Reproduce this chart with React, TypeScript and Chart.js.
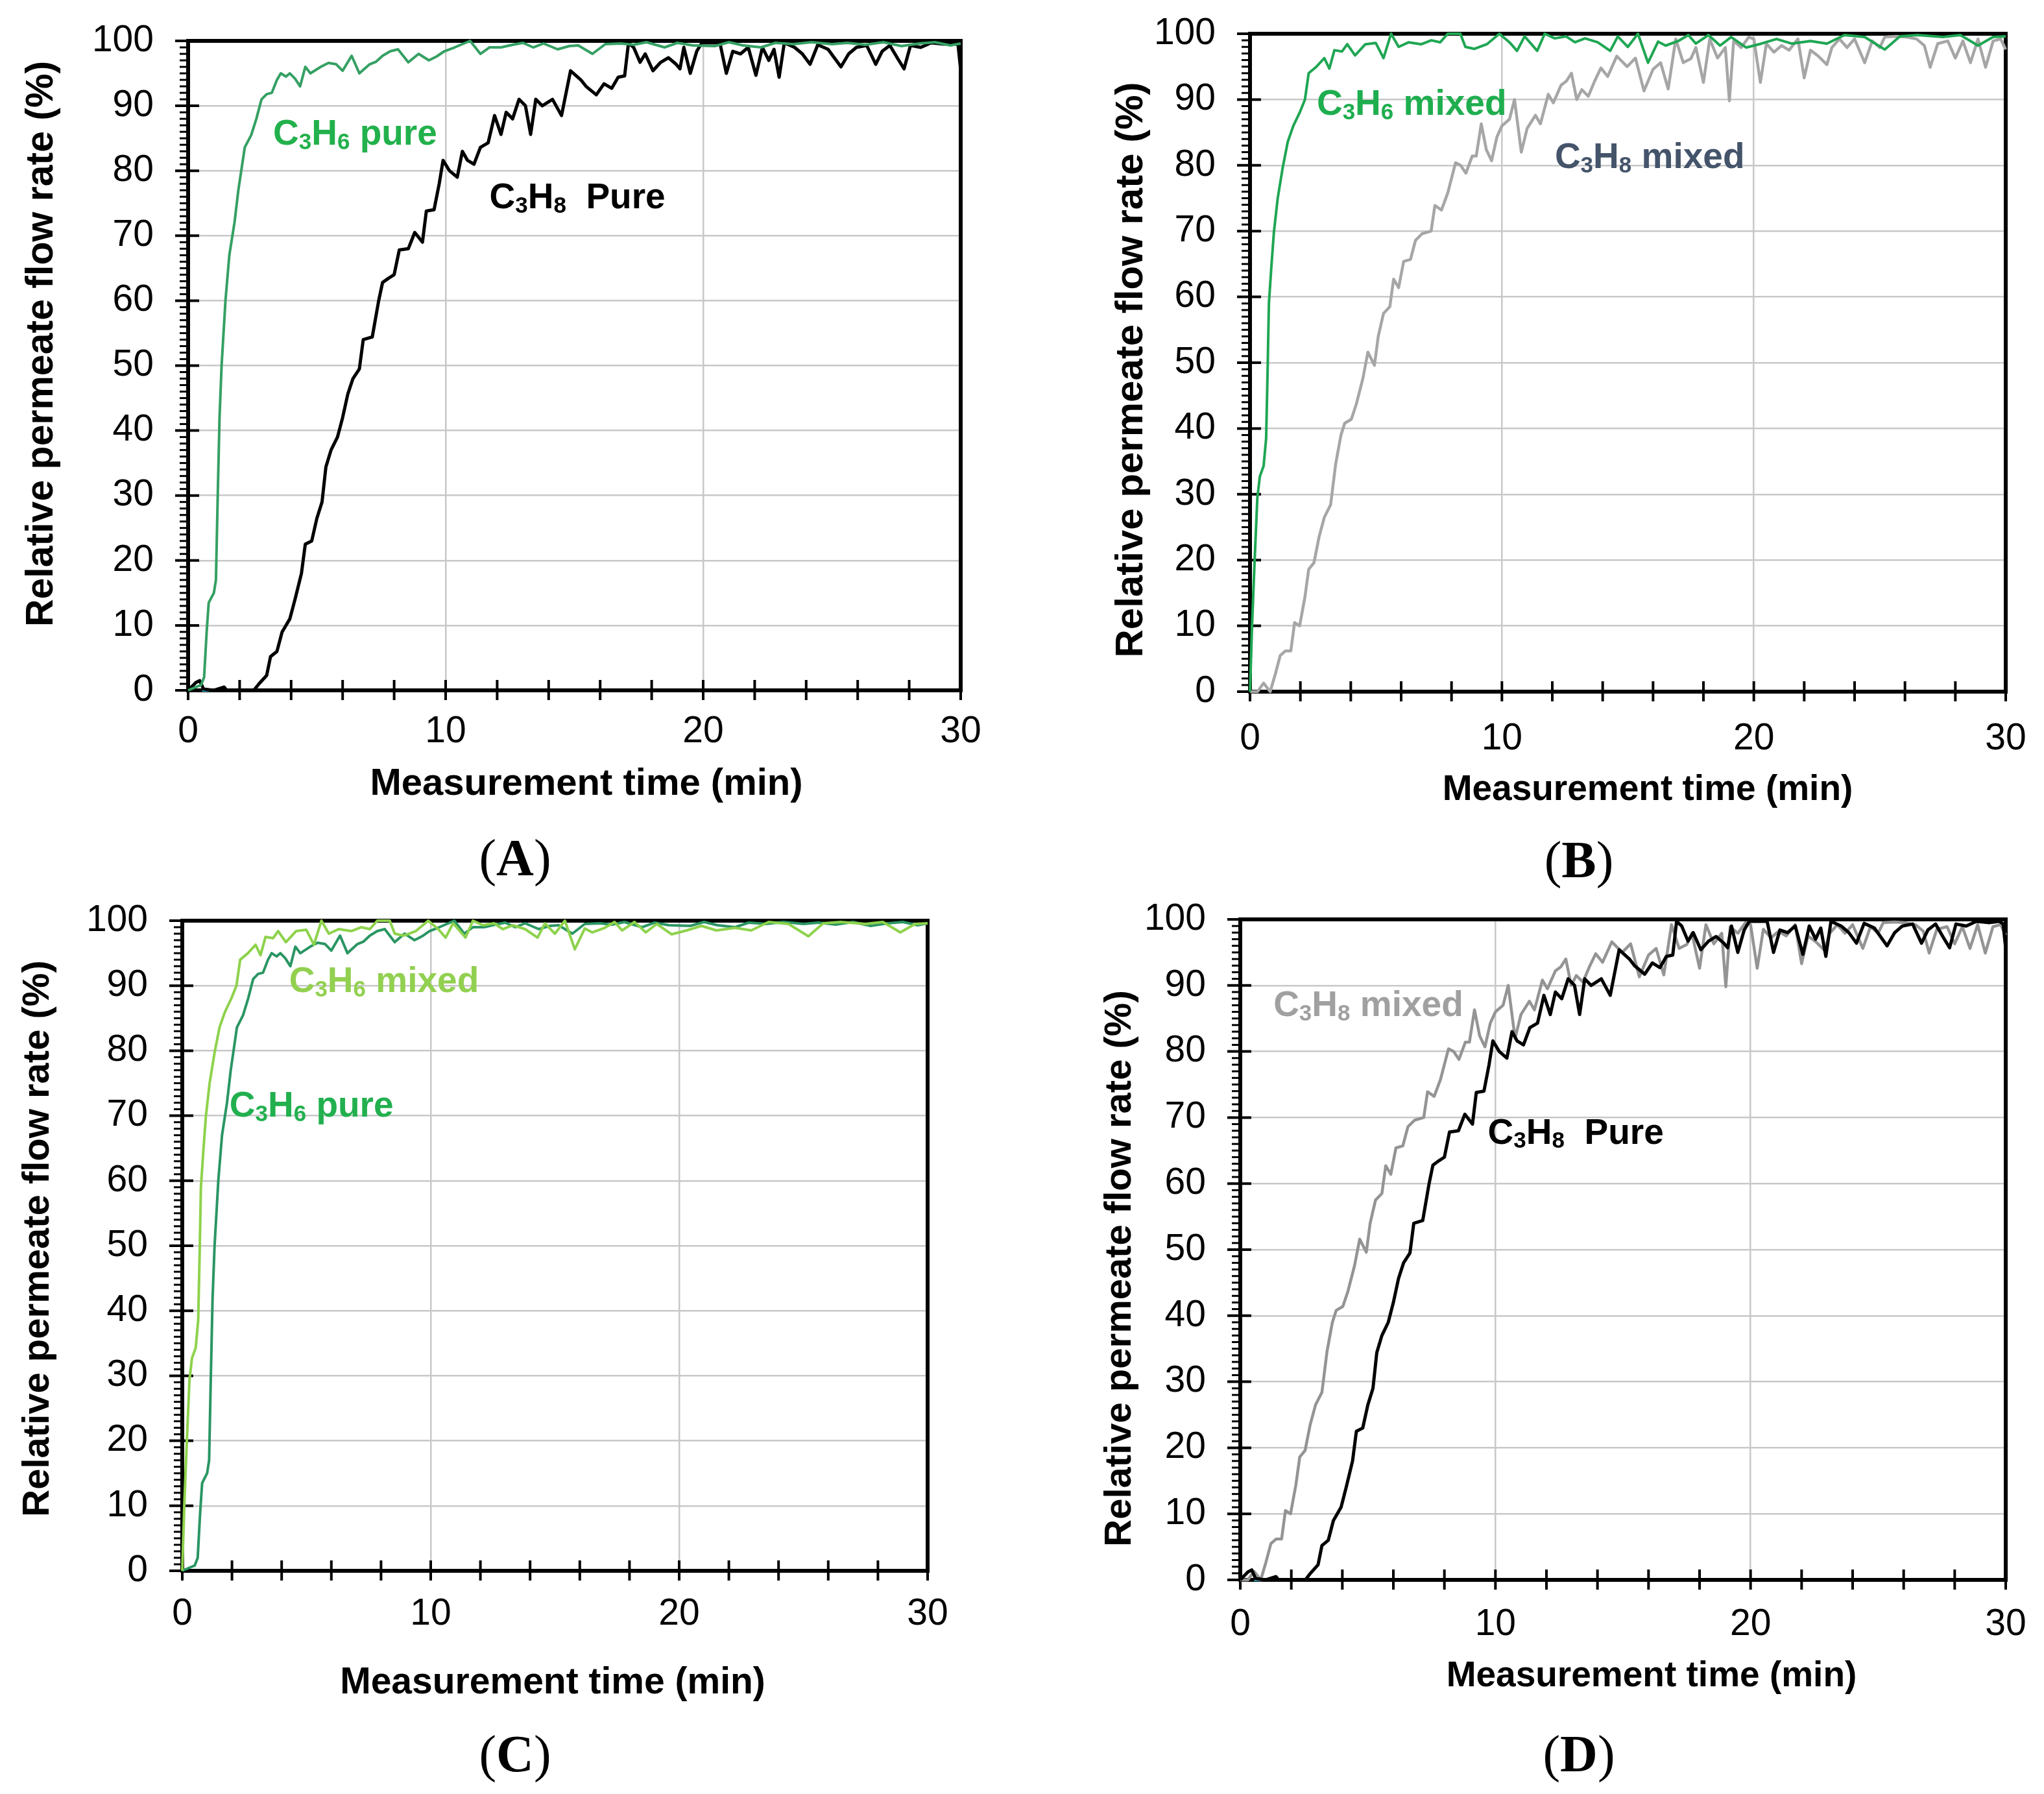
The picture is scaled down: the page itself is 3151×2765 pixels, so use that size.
import React, { useEffect, useRef } from 'react';
import { Chart, registerables } from 'chart.js';

Chart.register(...registerables);

type Pt = [number, number];

// ---------- data (time in min, relative permeate flow rate in %) ----------
const C3H6_PURE: Pt[] = [
  [0, 0], [0.3, 0.5], [0.5, 0.8], [0.62, 2], [0.72, 9], [0.8, 13.5], [1.0, 15], [1.08, 17], [1.15, 30],
  [1.22, 42], [1.3, 50], [1.45, 60], [1.6, 67], [1.8, 72], [1.95, 77], [2.2, 83.6], [2.45, 85.5],
  [2.65, 88], [2.85, 91], [3.05, 91.8], [3.25, 92], [3.45, 94], [3.6, 95], [3.8, 94.5], [3.95, 95],
  [4.15, 94.2], [4.35, 93], [4.55, 96], [4.75, 95], [5.15, 96], [5.45, 96.6], [5.75, 96.4], [6.0, 95.4],
  [6.35, 97.7], [6.65, 95], [7.05, 96.4], [7.3, 96.8], [7.55, 97.7], [7.85, 98.4], [8.15, 98.7],
  [8.55, 96.7], [8.95, 98], [9.35, 97], [9.65, 97.6], [9.95, 98.4], [10.35, 99], [10.95, 100],
  [11.35, 98], [11.7, 99], [12.15, 99], [12.6, 99.4], [13.0, 99.7], [13.4, 99], [13.8, 99.6],
  [14.35, 98.7], [14.8, 99.2], [15.15, 99.3], [15.7, 98], [16.2, 99.5], [16.8, 99.6], [17.3, 99.4],
  [17.8, 99.8], [18.5, 99], [19.0, 99.7], [19.6, 99.3], [20.45, 99.2], [21.0, 99.8], [21.55, 99.3],
  [22.25, 99], [22.8, 99.7], [23.5, 99.5], [24.2, 99.8], [25.0, 99.5], [25.6, 99.7], [26.3, 99.4],
  [27.0, 99.8], [27.7, 99.2], [28.4, 99.6], [29.0, 99.8], [29.6, 99.3], [30, 99.6],
];

const C3H8_PURE: Pt[] = [
  [0, 0], [0.3, 1.2], [0.45, 1.5], [0.6, 0.2], [1.0, 0], [1.4, 0.5], [1.5, 0], [2.0, 0], [2.55, 0],
  [2.75, 1], [3.05, 2.3], [3.2, 5.2], [3.45, 6], [3.65, 9], [3.95, 11], [4.15, 14], [4.4, 18],
  [4.55, 22.5], [4.8, 23], [5.0, 26.5], [5.2, 29], [5.35, 34.4], [5.55, 37], [5.8, 39], [6.0, 42],
  [6.2, 45.6], [6.4, 48], [6.65, 49.5], [6.8, 54], [7.15, 54.4], [7.4, 60], [7.55, 62.8], [7.8, 63.5],
  [8.0, 64], [8.2, 67.8], [8.55, 68], [8.8, 70.5], [9.1, 69], [9.25, 73.8], [9.55, 74], [9.75, 78],
  [9.9, 81.6], [10.15, 80], [10.45, 79], [10.65, 83], [10.85, 81.6], [11.1, 81], [11.35, 83.6],
  [11.65, 84.3], [11.9, 88.5], [12.15, 85.6], [12.35, 89], [12.6, 88], [12.85, 91], [13.1, 90],
  [13.3, 85.6], [13.5, 91], [13.75, 90], [14.15, 91], [14.5, 88.5], [14.85, 95.4], [15.25, 94],
  [15.45, 93], [15.85, 91.7], [16.15, 93.4], [16.45, 92.7], [16.7, 94.4], [16.95, 94.6], [17.1, 99.7],
  [17.3, 99], [17.55, 96.7], [17.75, 98], [18.05, 95.4], [18.35, 96.7], [18.65, 97.4], [18.95, 96.4],
  [19.1, 95.7], [19.25, 99], [19.5, 95], [19.75, 98.4], [19.95, 99.7], [20.25, 99.7], [20.65, 99.7],
  [20.9, 95], [21.15, 98.4], [21.45, 98], [21.75, 99], [22.05, 94.7], [22.3, 99], [22.55, 97],
  [22.75, 98.7], [22.95, 94.4], [23.15, 99.7], [23.55, 99], [23.85, 98], [24.15, 96.4], [24.45, 99.4],
  [24.85, 98.7], [25.35, 96], [25.65, 98], [25.95, 99], [26.35, 99.3], [26.7, 96.4], [26.95, 98.4],
  [27.25, 99.3], [27.55, 97.3], [27.8, 95.7], [28.05, 99.3], [28.45, 99], [28.85, 99.7], [29.35, 99.5],
  [29.75, 99.7], [29.9, 99.3], [30, 95.5],
];

const C3H6_MIXED: Pt[] = [
  [0, 0], [0.08, 10], [0.18, 19.6], [0.29, 29.4], [0.39, 32.7], [0.54, 34.3], [0.64, 38.5], [0.7, 49],
  [0.75, 59], [0.85, 64.7], [0.95, 69.9], [1.1, 75], [1.3, 79.7], [1.5, 83.6], [1.72, 86], [1.97, 88],
  [2.18, 90], [2.33, 94], [2.64, 95], [2.95, 96.3], [3.15, 94.7], [3.35, 97.5], [3.65, 97.3],
  [3.86, 98.4], [4.17, 96.7], [4.58, 98.4], [4.99, 98.6], [5.3, 96.3], [5.6, 100], [5.9, 98],
  [6.3, 98.7], [6.8, 98.4], [7.2, 99], [7.55, 98.7], [7.85, 100], [8.35, 100], [8.55, 98], [8.9, 97.7],
  [9.4, 98.4], [9.9, 100], [10.3, 98.7], [10.6, 97.4], [10.9, 99.6], [11.4, 97.4], [11.7, 100],
  [12.1, 99.3], [12.55, 99.6], [12.9, 98.7], [13.3, 99.3], [13.8, 98.7], [14.3, 97.4], [14.6, 99.6],
  [15.0, 98], [15.4, 100], [15.8, 95.6], [16.2, 98.8], [16.5, 98.2], [17.0, 98.9], [17.4, 99.8],
  [17.7, 98.5], [18.2, 99.8], [18.66, 98.2], [19.1, 99.5], [19.7, 97.9], [20.3, 98.5], [20.9, 99.2],
  [21.5, 98.5], [22.25, 98.9], [22.9, 98.5], [23.6, 99.8], [24.4, 99.5], [25.2, 97.6], [25.8, 99.6],
  [26.5, 99.8], [27.5, 99.5], [28.2, 99.8], [28.9, 98.2], [29.5, 99.5], [30, 99.6],
];

const C3H8_MIXED: Pt[] = [
  [0, 0], [0.3, 0], [0.54, 1.3], [0.8, 0], [1.0, 2.6], [1.2, 5.5], [1.41, 6.2], [1.62, 6.2],
  [1.77, 10.5], [1.97, 10], [2.18, 14.4], [2.33, 18.6], [2.54, 19.6], [2.74, 23.5], [2.95, 26.5],
  [3.2, 28.4], [3.4, 34.6], [3.61, 39], [3.76, 40.8], [4.02, 41.4], [4.22, 43.7], [4.48, 47.6],
  [4.68, 51.6], [4.94, 49.6], [5.09, 54], [5.3, 57.5], [5.55, 58.5], [5.7, 62.7], [5.9, 61.4],
  [6.1, 65.4], [6.37, 65.7], [6.57, 68.6], [6.83, 69.6], [7.19, 70], [7.34, 73.9], [7.6, 73.2],
  [7.85, 75.8], [8.16, 80.4], [8.36, 80], [8.57, 78.8], [8.82, 81.4], [8.98, 81.4], [9.18, 86.3],
  [9.38, 82.4], [9.59, 80.7], [9.8, 84.3], [10.0, 86], [10.3, 87], [10.5, 90], [10.77, 82], [11.0, 85.6],
  [11.33, 87.6], [11.53, 86.3], [11.84, 90.8], [12.04, 89.5], [12.35, 92.2], [12.56, 92.8], [12.76, 94],
  [12.97, 90], [13.17, 91.5], [13.43, 90.5], [13.68, 92.8], [13.93, 94.8], [14.2, 93.5], [14.56, 96.6],
  [14.97, 95], [15.3, 96.3], [15.64, 91.3], [16.0, 94.6], [16.3, 95.6], [16.6, 91.6], [16.9, 99.2],
  [17.2, 95.6], [17.5, 96.2], [17.7, 97.9], [18.0, 92.6], [18.25, 99.2], [18.56, 96.3], [18.87, 97.9],
  [19.03, 89.8], [19.2, 98.9], [19.5, 97.9], [19.8, 99.5], [20.0, 99.2], [20.26, 92.6], [20.5, 98.5],
  [20.8, 97.2], [21.1, 98.2], [21.4, 97.5], [21.75, 99.2], [22.0, 93.3], [22.25, 97.5], [22.56, 96.6],
  [22.9, 95.3], [23.1, 97.9], [23.4, 99.2], [23.7, 97.9], [24.0, 99.2], [24.4, 95.6], [24.7, 98.9],
  [25.0, 97.9], [25.2, 99.5], [25.65, 99.6], [26.05, 99.5], [26.46, 99.2], [26.77, 98.2], [27.0, 94.9],
  [27.3, 98.5], [27.7, 98.9], [28.0, 96.3], [28.3, 98.9], [28.6, 95.6], [28.9, 99.2], [29.2, 94.9],
  [29.5, 98.9], [29.8, 99.2], [30, 97.6],
];

const BASELINE_MARK: Pt[] = [[0.55, 0], [1.0, 0]];

// ---------- axes ----------
const X_MIN = 0;
const X_MAX = 30;
const X_LABEL_STEP = 10;
const X_MARK_STEP = 2;
const Y_MIN = 0;
const Y_MAX = 100;
const Y_LABEL_STEP = 10;
const Y_MINOR_STEP = 1;
const X_TITLE = 'Measurement time (min)';
const Y_TITLE = 'Relative permeate flow rate (%)';

const SANS = '"Liberation Sans", Arial, Helvetica, sans-serif';

type Series = { label: string; points: Pt[]; color: string; width: number };
type Note = { text: string; x: number; y: number; color: string };
type Spec = {
  id: string;
  x0: number; y0: number; w: number; h: number;
  left: number; right: number; top: number; bottom: number;
  xLabelY: number;
  yTitleX: number; yTitleY: number; yTitleSize: number;
  xTitleX: number; xTitleY: number; xTitleSize: number;
  series: Series[];
  notes: Note[];
  tag: string; tagX: number; tagY: number;
};

const PANELS: Spec[] = [
  {
    id: 'A', x0: 0, y0: 0, w: 1560, h: 1260,
    left: 290, right: 1481, top: 63, bottom: 1064,
    xLabelY: 1128,
    yTitleX: 70, yTitleY: 530, yTitleSize: 59,
    xTitleX: 904, xTitleY: 1209, xTitleSize: 58,
    series: [
      { label: 'C3H6 pure', points: C3H6_PURE, color: '#35a063', width: 4 },
      { label: 'C3H8 pure', points: C3H8_PURE, color: '#000000', width: 5 },
      { label: 'mark', points: BASELINE_MARK, color: '#3cc4ef', width: 4 },
    ],
    notes: [
      { text: 'C_3H_6 pure', x: 3.3, y: 86, color: '#22b14c' },
      { text: 'C_3H_8  Pure', x: 11.7, y: 76.2, color: '#000000' },
    ],
    tag: 'A', tagX: 794, tagY: 1322,
  },
  {
    id: 'B', x0: 1640, y0: 0, w: 1511, h: 1260,
    left: 1927, right: 3092, top: 52, bottom: 1066,
    xLabelY: 1139,
    yTitleX: 1749, yTitleY: 570, yTitleSize: 60,
    xTitleX: 2540, xTitleY: 1218, xTitleSize: 55,
    series: [
      { label: 'C3H6 mixed', points: C3H6_MIXED, color: '#1fa653', width: 4 },
      { label: 'C3H8 mixed', points: C3H8_MIXED, color: '#a6a6a6', width: 4.5 },
    ],
    notes: [
      { text: 'C_3H_6 mixed', x: 2.65, y: 89.6, color: '#1fae4f' },
      { text: 'C_3H_8 mixed', x: 12.1, y: 81.5, color: '#44546a' },
    ],
    tag: 'B', tagX: 2434, tagY: 1325,
  },
  {
    id: 'C', x0: 0, y0: 1380, w: 1560, h: 1270,
    left: 281, right: 1430, top: 1419, bottom: 2421,
    xLabelY: 2488,
    yTitleX: 64, yTitleY: 1909, yTitleSize: 58,
    xTitleX: 852, xTitleY: 2594, xTitleSize: 57,
    series: [
      { label: 'C3H6 mixed', points: C3H6_MIXED, color: '#8ed24c', width: 4 },
      { label: 'C3H6 pure', points: C3H6_PURE, color: '#2a9663', width: 4 },
    ],
    notes: [
      { text: 'C_3H_6 mixed', x: 4.3, y: 91, color: '#92d050' },
      { text: 'C_3H_6 pure', x: 1.9, y: 71.8, color: '#22b04f' },
    ],
    tag: 'C', tagX: 794, tagY: 2703,
  },
  {
    id: 'D', x0: 1640, y0: 1380, w: 1511, h: 1270,
    left: 1912, right: 3092, top: 1417, bottom: 2435,
    xLabelY: 2504,
    yTitleX: 1732, yTitleY: 1955, yTitleSize: 58,
    xTitleX: 2546, xTitleY: 2584, xTitleSize: 55,
    series: [
      { label: 'C3H8 pure', points: C3H8_PURE, color: '#000000', width: 5 },
      { label: 'C3H8 mixed', points: C3H8_MIXED, color: '#949494', width: 4.5 },
      { label: 'mark', points: BASELINE_MARK, color: '#3cc4ef', width: 4 },
    ],
    notes: [
      { text: 'C_3H_8 mixed', x: 1.3, y: 87.3, color: '#a0a0a0' },
      { text: 'C_3H_8  Pure', x: 9.7, y: 68, color: '#000000' },
    ],
    tag: 'D', tagX: 2434, tagY: 2703,
  },
];

const TICK_SIZE = 57;
const NOTE_SIZE = 55;
const Y_LABEL_GAP = 53;

// frame + tick marks, drawn under the data lines
const framePlugin = {
  id: 'frameTicks',
  beforeDatasetsDraw(chart: any) {
    const { ctx, chartArea, scales } = chart;
    const { left, right, top, bottom } = chartArea;
    const x = scales.x;
    const y = scales.y;
    const seg = (a: number, b: number, c: number, d: number) => {
      ctx.beginPath();
      ctx.moveTo(a, b);
      ctx.lineTo(c, d);
      ctx.stroke();
    };
    ctx.save();
    ctx.strokeStyle = '#000';
    ctx.lineCap = 'butt';
    ctx.lineWidth = 3;
    for (let v = Y_MIN; v <= Y_MAX; v += Y_MINOR_STEP) {
      if (v % Y_LABEL_STEP === 0) continue;
      const py = y.getPixelForValue(v);
      seg(left - 13, py, left, py);
    }
    ctx.lineWidth = 4;
    for (let v = Y_MIN; v <= Y_MAX; v += Y_LABEL_STEP) {
      const py = y.getPixelForValue(v);
      seg(left - 20, py, left + 17, py);
    }
    for (let t = X_MIN; t <= X_MAX; t += X_MARK_STEP) {
      const px = x.getPixelForValue(t);
      seg(px, bottom - 16, px, bottom + 15);
    }
    ctx.lineWidth = 6;
    ctx.strokeRect(left, top, right - left, bottom - top);
    ctx.restore();
  },
};

function drawFormula(ctx: CanvasRenderingContext2D, text: string, x: number, yMid: number, color: string, size: number) {
  const parts = text.split(/(_\d)/).filter((p) => p.length > 0);
  const baseline = yMid + size * 0.36;
  let cx = x;
  ctx.fillStyle = color;
  ctx.textAlign = 'left';
  ctx.textBaseline = 'alphabetic';
  for (const p of parts) {
    if (p.startsWith('_')) {
      const s = Math.round(size * 0.64);
      ctx.font = `bold ${s}px ${SANS}`;
      ctx.fillText(p.slice(1), cx, baseline + size * 0.12);
      cx += ctx.measureText(p.slice(1)).width;
    } else {
      ctx.font = `bold ${size}px ${SANS}`;
      ctx.fillText(p, cx, baseline);
      cx += ctx.measureText(p).width;
    }
  }
}

const notesPlugin = {
  id: 'notes',
  afterDatasetsDraw(chart: any, _args: any, opts: any) {
    const { ctx, scales } = chart;
    const notes: Note[] = opts.notes || [];
    ctx.save();
    for (const n of notes) {
      drawFormula(ctx, n.text, scales.x.getPixelForValue(n.x), scales.y.getPixelForValue(n.y), n.color, NOTE_SIZE);
    }
    ctx.restore();
  },
};

// axis titles placed like the original figure (slightly off-centre)
const titlesPlugin = {
  id: 'axisTitles',
  afterDraw(chart: any, _args: any, opts: any) {
    const p: Spec = opts.spec;
    if (!p) return;
    const { ctx } = chart;
    ctx.save();
    ctx.fillStyle = '#000';
    ctx.textAlign = 'center';
    ctx.textBaseline = 'middle';
    ctx.font = `bold ${p.xTitleSize}px ${SANS}`;
    ctx.fillText(X_TITLE, p.xTitleX - p.x0, p.xTitleY - p.y0);
    ctx.translate(p.yTitleX - p.x0 - 5, p.yTitleY - p.y0);
    ctx.rotate(-Math.PI / 2);
    ctx.font = `bold ${p.yTitleSize}px ${SANS}`;
    ctx.fillText(Y_TITLE, 0, 0);
    ctx.restore();
  },
};

function buildConfig(p: Spec): any {
  const tickLH = TICK_SIZE * 1.2;
  return {
    type: 'line',
    data: {
      datasets: p.series.map((s) => ({
        label: s.label,
        data: s.points.map(([t, v]) => ({ x: t, y: v })),
        borderColor: s.color,
        backgroundColor: s.color,
        borderWidth: s.width,
        pointRadius: 0,
        tension: 0,
        fill: false,
        clip: 10,
        borderJoinStyle: 'round',
      })),
    },
    options: {
      animation: false,
      responsive: false,
      maintainAspectRatio: false,
      events: [],
      layout: {
        padding: { left: 0, top: p.top - p.y0, right: p.x0 + p.w - p.right, bottom: 0 },
      },
      plugins: {
        legend: { display: false },
        tooltip: { enabled: false },
        notes: { notes: p.notes },
        axisTitles: { spec: p },
      },
      scales: {
        x: {
          type: 'linear',
          min: X_MIN,
          max: X_MAX,
          afterFit: (s: any) => { s.height = p.y0 + p.h - p.bottom; },
          ticks: {
            stepSize: X_LABEL_STEP,
            autoSkip: false,
            maxRotation: 0,
            color: '#000',
            font: { family: SANS, size: TICK_SIZE },
            padding: 0,
          },
          grid: {
            color: '#c8c8c8',
            lineWidth: 2.5,
            drawTicks: true,
            tickLength: p.xLabelY - p.bottom - tickLH / 2,
            tickColor: 'rgba(0,0,0,0)',
          },
          border: { display: false },
          title: { display: false },
        },
        y: {
          type: 'linear',
          min: Y_MIN,
          max: Y_MAX,
          afterFit: (s: any) => { s.width = p.left - p.x0; },
          ticks: {
            stepSize: Y_LABEL_STEP,
            color: '#000',
            font: { family: SANS, size: TICK_SIZE },
            padding: 0,
          },
          grid: {
            color: '#c8c8c8',
            lineWidth: 2.5,
            drawTicks: true,
            tickLength: Y_LABEL_GAP,
            tickColor: 'rgba(0,0,0,0)',
          },
          border: { display: false },
          title: { display: false },
        },
      },
    },
    plugins: [framePlugin, notesPlugin, titlesPlugin],
  };
}

function Panel({ spec }: { spec: Spec }) {
  const ref = useRef<HTMLCanvasElement | null>(null);
  useEffect(() => {
    if (!ref.current) return;
    const chart = new Chart(ref.current, buildConfig(spec));
    return () => chart.destroy();
  }, [spec]);
  return (
    <canvas
      ref={ref}
      width={spec.w}
      height={spec.h}
      style={{ position: 'absolute', left: spec.x0, top: spec.y0, width: spec.w, height: spec.h }}
    />
  );
}

export default function App() {
  return (
    <div
      style={{
        position: 'absolute',
        left: 0,
        top: 0,
        width: 3151,
        height: 2765,
        background: '#ffffff',
        overflow: 'hidden',
      }}
    >
      {PANELS.map((p) => (
        <Panel key={p.id} spec={p} />
      ))}
      {PANELS.map((p) => (
        <div
          key={'tag' + p.id}
          style={{
            position: 'absolute',
            left: p.tagX,
            top: p.tagY,
            transform: 'translate(-50%, -50%)',
            fontFamily: '"Liberation Serif", "Times New Roman", serif',
            fontSize: 80,
            lineHeight: 1,
            color: '#000',
            whiteSpace: 'nowrap',
          }}
        >
          (<b>{p.tag}</b>)
        </div>
      ))}
    </div>
  );
}
